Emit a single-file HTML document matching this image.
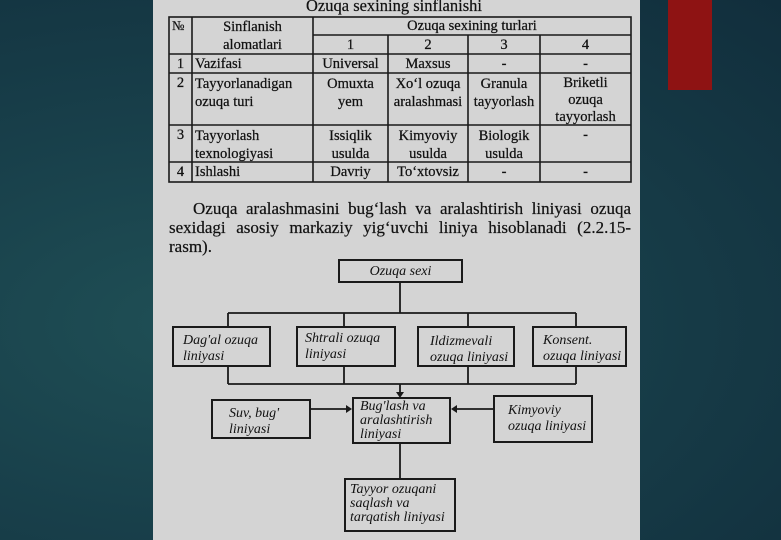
<!DOCTYPE html>
<html><head><meta charset="utf-8"><style>
html,body{margin:0;padding:0}
body{width:781px;height:540px;position:relative;overflow:hidden;background:radial-gradient(ellipse at 25% 60%,#1f4f55 0%,#183f4a 45%,#112e3c 100%);font-family:"Liberation Serif",serif;color:#111}
.page{position:absolute;left:153px;top:0;width:487px;height:540px;background:#d4d4d4}
.red{position:absolute;left:668px;top:0;width:44px;height:90px;background:#8e1313}
.t{position:absolute;white-space:nowrap}
.c{text-align:center}
.bx{position:absolute;border:2px solid #1a1a1a;box-sizing:border-box;font-style:italic;font-size:14px;line-height:16px;background:#d4d4d4}
.td{font-size:14.5px;line-height:16px;position:absolute;white-space:nowrap;-webkit-text-stroke:0.25px #111}
.pl{position:absolute;left:169px;width:462px;font-size:17px;text-align:justify;text-align-last:justify;white-space:nowrap;-webkit-text-stroke:0.2px #111}
</style></head><body>
<div class="page"></div>
<div class="red"></div>
<div class="t" style="left:306px;top:-4px;font-size:16.5px;-webkit-text-stroke:0.2px #111">Ozuqa sexining sinflanishi</div>
<svg width="781" height="540" style="position:absolute;left:0;top:0">
<g stroke="#1a1a1a" stroke-width="1.6" fill="none">
<rect x="169" y="17" width="462" height="165"/>
<line x1="192" y1="17" x2="192" y2="182"/>
<line x1="313" y1="17" x2="313" y2="182"/>
<line x1="313" y1="35" x2="631" y2="35"/>
<line x1="388" y1="35" x2="388" y2="182"/>
<line x1="468" y1="35" x2="468" y2="182"/>
<line x1="540" y1="35" x2="540" y2="182"/>
<line x1="169" y1="54" x2="631" y2="54"/>
<line x1="169" y1="73" x2="631" y2="73"/>
<line x1="169" y1="125" x2="631" y2="125"/>
<line x1="169" y1="162" x2="631" y2="162"/>
</g>
<g stroke="#1a1a1a" stroke-width="1.8" fill="none">
<line x1="400" y1="283" x2="400" y2="313"/>
<line x1="228" y1="313" x2="576" y2="313"/>
<line x1="228" y1="313" x2="228" y2="326"/><line x1="344" y1="313" x2="344" y2="326"/>
<line x1="468" y1="313" x2="468" y2="326"/><line x1="576" y1="313" x2="576" y2="326"/>
<line x1="228" y1="384" x2="576" y2="384"/>
<line x1="228" y1="367" x2="228" y2="384"/><line x1="344" y1="367" x2="344" y2="384"/>
<line x1="468" y1="367" x2="468" y2="384"/><line x1="576" y1="367" x2="576" y2="384"/>
<line x1="400" y1="384" x2="400" y2="393"/>
<line x1="311" y1="409" x2="347" y2="409"/>
<line x1="493" y1="409" x2="456" y2="409"/>
<line x1="400" y1="444" x2="400" y2="478"/>
</g>
<g fill="#1a1a1a">
<polygon points="396,392 404,392 400,398"/>
<polygon points="346,405 346,413 352,409"/>
<polygon points="457,405 457,413 451,409"/>
</g>
</svg>
<div class="td c" style="left:192px;top:18px;width:121px;line-height:18px">Sinflanish<br>alomatlari</div>
<div class="td" style="left:172px;top:18px;font-size:13px">№</div>
<div class="td c" style="left:313px;top:18px;width:318px">Ozuqa sexining turlari</div>
<div class="td c" style="left:313px;top:37px;width:75px">1</div>
<div class="td c" style="left:388px;top:37px;width:80px">2</div>
<div class="td c" style="left:468px;top:37px;width:72px">3</div>
<div class="td c" style="left:540px;top:37px;width:91px">4</div>
<div class="td c" style="left:169px;top:56px;width:23px">1</div>
<div class="td" style="left:195px;top:56px">Vazifasi</div>
<div class="td c" style="left:313px;top:56px;width:75px">Universal</div>
<div class="td c" style="left:388px;top:56px;width:80px">Maxsus</div>
<div class="td c" style="left:468px;top:56px;width:72px">-</div>
<div class="td c" style="left:540px;top:56px;width:91px">-</div>
<div class="td c" style="left:169px;top:75px;width:23px">2</div>
<div class="td" style="left:195px;top:75px;line-height:18px">Tayyorlanadigan<br>ozuqa turi</div>
<div class="td c" style="left:313px;top:75px;width:75px;line-height:18px">Omuxta<br>yem</div>
<div class="td c" style="left:388px;top:75px;width:80px;line-height:18px">Xo‘l ozuqa<br>aralashmasi</div>
<div class="td c" style="left:468px;top:75px;width:72px;line-height:18px">Granula<br>tayyorlash</div>
<div class="td c" style="left:540px;top:75px;width:91px;line-height:17px">Briketli<br>ozuqa<br>tayyorlash</div>
<div class="td c" style="left:169px;top:127px;width:23px">3</div>
<div class="td" style="left:195px;top:127px;line-height:18px">Tayyorlash<br>texnologiyasi</div>
<div class="td c" style="left:313px;top:127px;width:75px;line-height:18px">Issiqlik<br>usulda</div>
<div class="td c" style="left:388px;top:127px;width:80px;line-height:18px">Kimyoviy<br>usulda</div>
<div class="td c" style="left:468px;top:127px;width:72px;line-height:18px">Biologik<br>usulda</div>
<div class="td c" style="left:540px;top:127px;width:91px">-</div>
<div class="td c" style="left:169px;top:164px;width:23px">4</div>
<div class="td" style="left:195px;top:164px">Ishlashi</div>
<div class="td c" style="left:313px;top:164px;width:75px">Davriy</div>
<div class="td c" style="left:388px;top:164px;width:80px">To‘xtovsiz</div>
<div class="td c" style="left:468px;top:164px;width:72px">-</div>
<div class="td c" style="left:540px;top:164px;width:91px">-</div>
<div class="pl" style="top:199px;padding-left:24px;width:438px">Ozuqa aralashmasini bug‘lash va aralashtirish liniyasi ozuqa</div>
<div class="pl" style="top:218px">sexidagi asosiy markaziy yig‘uvchi liniya hisoblanadi (2.2.15-</div>
<div class="t" style="left:169px;top:237px;font-size:17px;-webkit-text-stroke:0.2px #111">rasm).</div>
<div class="bx c" style="left:338px;top:259px;width:125px;height:24px;padding-top:3px">Ozuqa sexi</div>
<div class="bx" style="left:172px;top:326px;width:99px;height:41px;padding:5px 0 0 9px">Dag'al ozuqa<br>liniyasi</div>
<div class="bx" style="left:296px;top:326px;width:100px;height:41px;padding:3px 0 0 7px">Shtrali ozuqa<br>liniyasi</div>
<div class="bx" style="left:417px;top:326px;width:98px;height:41px;padding:6px 0 0 11px">Ildizmevali<br>ozuqa liniyasi</div>
<div class="bx" style="left:532px;top:326px;width:95px;height:41px;padding:5px 0 0 9px">Konsent.<br>ozuqa liniyasi</div>
<div class="bx" style="left:211px;top:399px;width:100px;height:40px;padding:5px 0 0 16px">Suv, bug'<br>liniyasi</div>
<div class="bx" style="left:352px;top:397px;width:99px;height:47px;padding:1px 0 0 6px;line-height:14px">Bug'lash va<br>aralashtirish<br>liniyasi</div>
<div class="bx" style="left:493px;top:395px;width:100px;height:48px;padding:6px 0 0 13px">Kimyoviy<br>ozuqa liniyasi</div>
<div class="bx" style="left:344px;top:478px;width:112px;height:54px;padding:3px 0 0 4px;line-height:14px">Tayyor ozuqani<br>saqlash va<br>tarqatish liniyasi</div>
</body></html>
